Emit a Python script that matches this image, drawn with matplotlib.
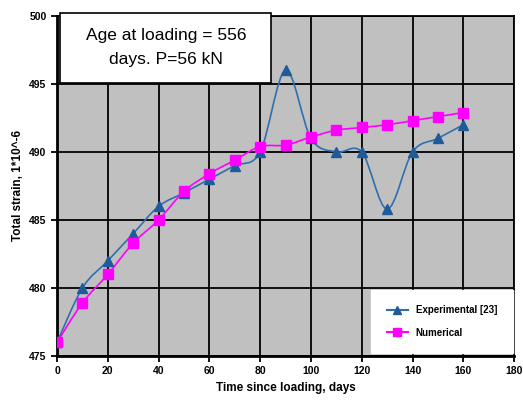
import numpy as np
import matplotlib
matplotlib.use("Agg")
import matplotlib.pyplot as plt
from matplotlib.path import Path
from matplotlib.patches import PathPatch, Rectangle

plt.rcParams['font.family'] = ['Liberation Sans', 'DejaVu Sans']

# data ------------------------------------------------------------------
days = [0, 10, 20, 30, 40, 50, 60, 70, 80, 90, 100, 110, 120, 130, 140, 150, 160]
exp_strain = [476, 480, 482, 484, 486, 487, 488, 489, 490, 496, 491, 490, 490, 485.8, 490, 491, 492]
num_strain = [476, 478.9, 481, 483.3, 485, 487.1, 488.4, 489.4, 490.4, 490.5, 491.1,
              491.6, 491.8, 492, 492.3, 492.6, 492.9]
xticks = [0, 20, 40, 60, 80, 100, 120, 140, 160, 180]
yticks = [475, 480, 485, 490, 495, 500]


def smooth_path(x, y, t=1 / 6):
    # Excel-like smoothed line: cubic bezier through the points
    x = np.asarray(x, float)
    y = np.asarray(y, float)
    verts = [(x[0], y[0])]
    codes = [Path.MOVETO]
    n = len(x)
    for i in range(n - 1):
        x0, y0 = (x[i - 1], y[i - 1]) if i > 0 else (x[i], y[i])
        x3, y3 = (x[i + 2], y[i + 2]) if i + 2 < n else (x[i + 1], y[i + 1])
        c1 = (x[i] + (x[i + 1] - x0) * t, y[i] + (y[i + 1] - y0) * t)
        c2 = (x[i + 1] - (x3 - x[i]) * t, y[i + 1] - (y3 - y[i]) * t)
        verts += [c1, c2, (x[i + 1], y[i + 1])]
        codes += [Path.CURVE4] * 3
    return Path(verts, codes)


fig = plt.figure(figsize=(5.23, 4.09), dpi=100)
ax = fig.add_axes([0.109, 0.1296, 0.874, 0.8314])
ax.set_facecolor('#c0c0c0')

blue = '#2f6fb0'
mag = '#ff00ff'

ax.add_patch(PathPatch(smooth_path(days, exp_strain), fill=False, edgecolor=blue, lw=1.2, zorder=3))
ax.add_patch(PathPatch(smooth_path(days, num_strain), fill=False, edgecolor=mag, lw=1.2, zorder=3))
ax.plot(days, exp_strain, ls='none', marker='^', ms=6.5, color='#1f5a99', zorder=4)
ax.plot(days, num_strain, ls='none', marker='s', ms=6.5, color=mag, zorder=4)

# legend proxies
ax.plot([], [], color=blue, marker='^', ms=6, mfc='#1f5a99', mec='#1f5a99', label='Experimental [23]')
ax.plot([], [], color=mag, marker='s', ms=6, label='Numerical')

ax.set_xlim(0, 180)
ax.set_ylim(475, 500)
ax.set_xticks(xticks)
ax.set_yticks(yticks)
ax.grid(True, color='black', lw=1.3)
ax.set_axisbelow(True)
for s in ax.spines.values():
    s.set_linewidth(1.3)
ax.spines['left'].set_linewidth(2)
ax.spines['bottom'].set_linewidth(2)
ax.tick_params(direction='out', length=4, width=1.3, labelsize=7.5)
for lab in ax.get_xticklabels() + ax.get_yticklabels():
    lab.set_fontweight('bold')

ax.set_xlabel('Time since loading, days', fontsize=8.5, fontweight='bold', labelpad=4)
ax.set_ylabel('Total strain, 1*10^-6', fontsize=8.5, fontweight='bold', labelpad=4)

leg = ax.legend(loc='lower right', bbox_to_anchor=(0.997, 0.008), fontsize=7, frameon=True,
                fancybox=False, edgecolor='white', borderpad=1.6, labelspacing=1.3,
                handlelength=2.2, borderaxespad=0)
leg.get_frame().set_alpha(1)
for t in leg.get_texts():
    t.set_fontweight('bold')

# annotation box
ax.add_patch(Rectangle((0.0065, 0.803), 0.4625, 0.206, transform=ax.transAxes,
                       facecolor='white', edgecolor='black', lw=1.2, clip_on=False, zorder=5))
ax.text(0.238, 0.906, 'Age at loading = 556\ndays. P=56 kN', transform=ax.transAxes,
        ha='center', va='center', fontsize=12.5, linespacing=1.75, zorder=6)

fig.savefig('out.png', dpi=100)
